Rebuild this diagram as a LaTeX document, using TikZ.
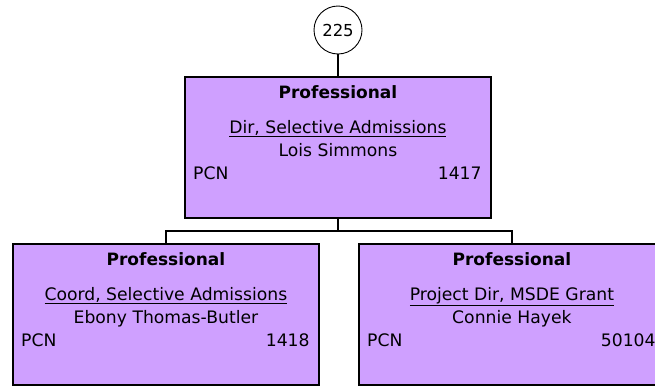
\documentclass[tikz,border=0pt]{standalone}
\usepackage{fontspec}
\setmainfont{DejaVu Sans}
\usetikzlibrary{calc}
\definecolor{boxfill}{RGB}{207,160,255}
\newcommand\orgbox[6]{%
  \node[posbox] (#1) at (#2,#3) {};
  \node[ttl, anchor=base] (#1-h) at ($(#1.north)+(0,22)$) {Professional};
  \node[txt, anchor=base] (#1-t) at ($(#1.north)+(0,57)$) {\underline{#4}};
  \node[txt, anchor=base] (#1-p) at ($(#1.north)+(0,80)$) {#5};
  \node[txt, anchor=base west] (#1-l) at ($(#1.north west)+(9,103)$) {PCN};
  \node[txt, anchor=base east] (#1-n) at ($(#1.north east)+(-10,103)$) {#6};
}
\begin{document}
\begin{tikzpicture}[x=1pt,y=-1pt,
  posbox/.style={draw=black, line width=1.8pt, fill=boxfill, minimum width=306pt,
    minimum height=141pt, inner sep=0pt, anchor=north west},
  ttl/.style={inner sep=0pt, font=\fontsize{17}{20}\selectfont\bfseries},
  txt/.style={inner sep=0pt, font=\fontsize{17.2}{20}\selectfont},
  link/.style={draw=black, line width=1.8pt}]
\path[use as bounding box, clip] (0,0) rectangle (655,386);
\fill[white] (0,0) rectangle (655,386);
\orgbox{top}{184}{76}{Dir, Selective Admissions}{Lois Simmons}{1417}
\orgbox{left}{12}{243}{Coord, Selective Admissions}{Ebony Thomas-Butler}{1418}
\orgbox{right}{358}{243}{Project Dir, MSDE Grant}{Connie Hayek}{50104}
\node[circle, draw=black, line width=0.9pt, fill=white, minimum size=48pt, inner sep=0pt,
  font=\fontsize{16.5}{19}\selectfont] (num) at (338,30) {225};
\draw[link] (num.south) -- (num.south |- top.north);
\coordinate (bar) at ($(top.south)+(0,12)$);
\draw[link] (top.south) -- (bar) -| (left.north);
\draw[link] (bar) -| (right.north);
\end{tikzpicture}
\end{document}
